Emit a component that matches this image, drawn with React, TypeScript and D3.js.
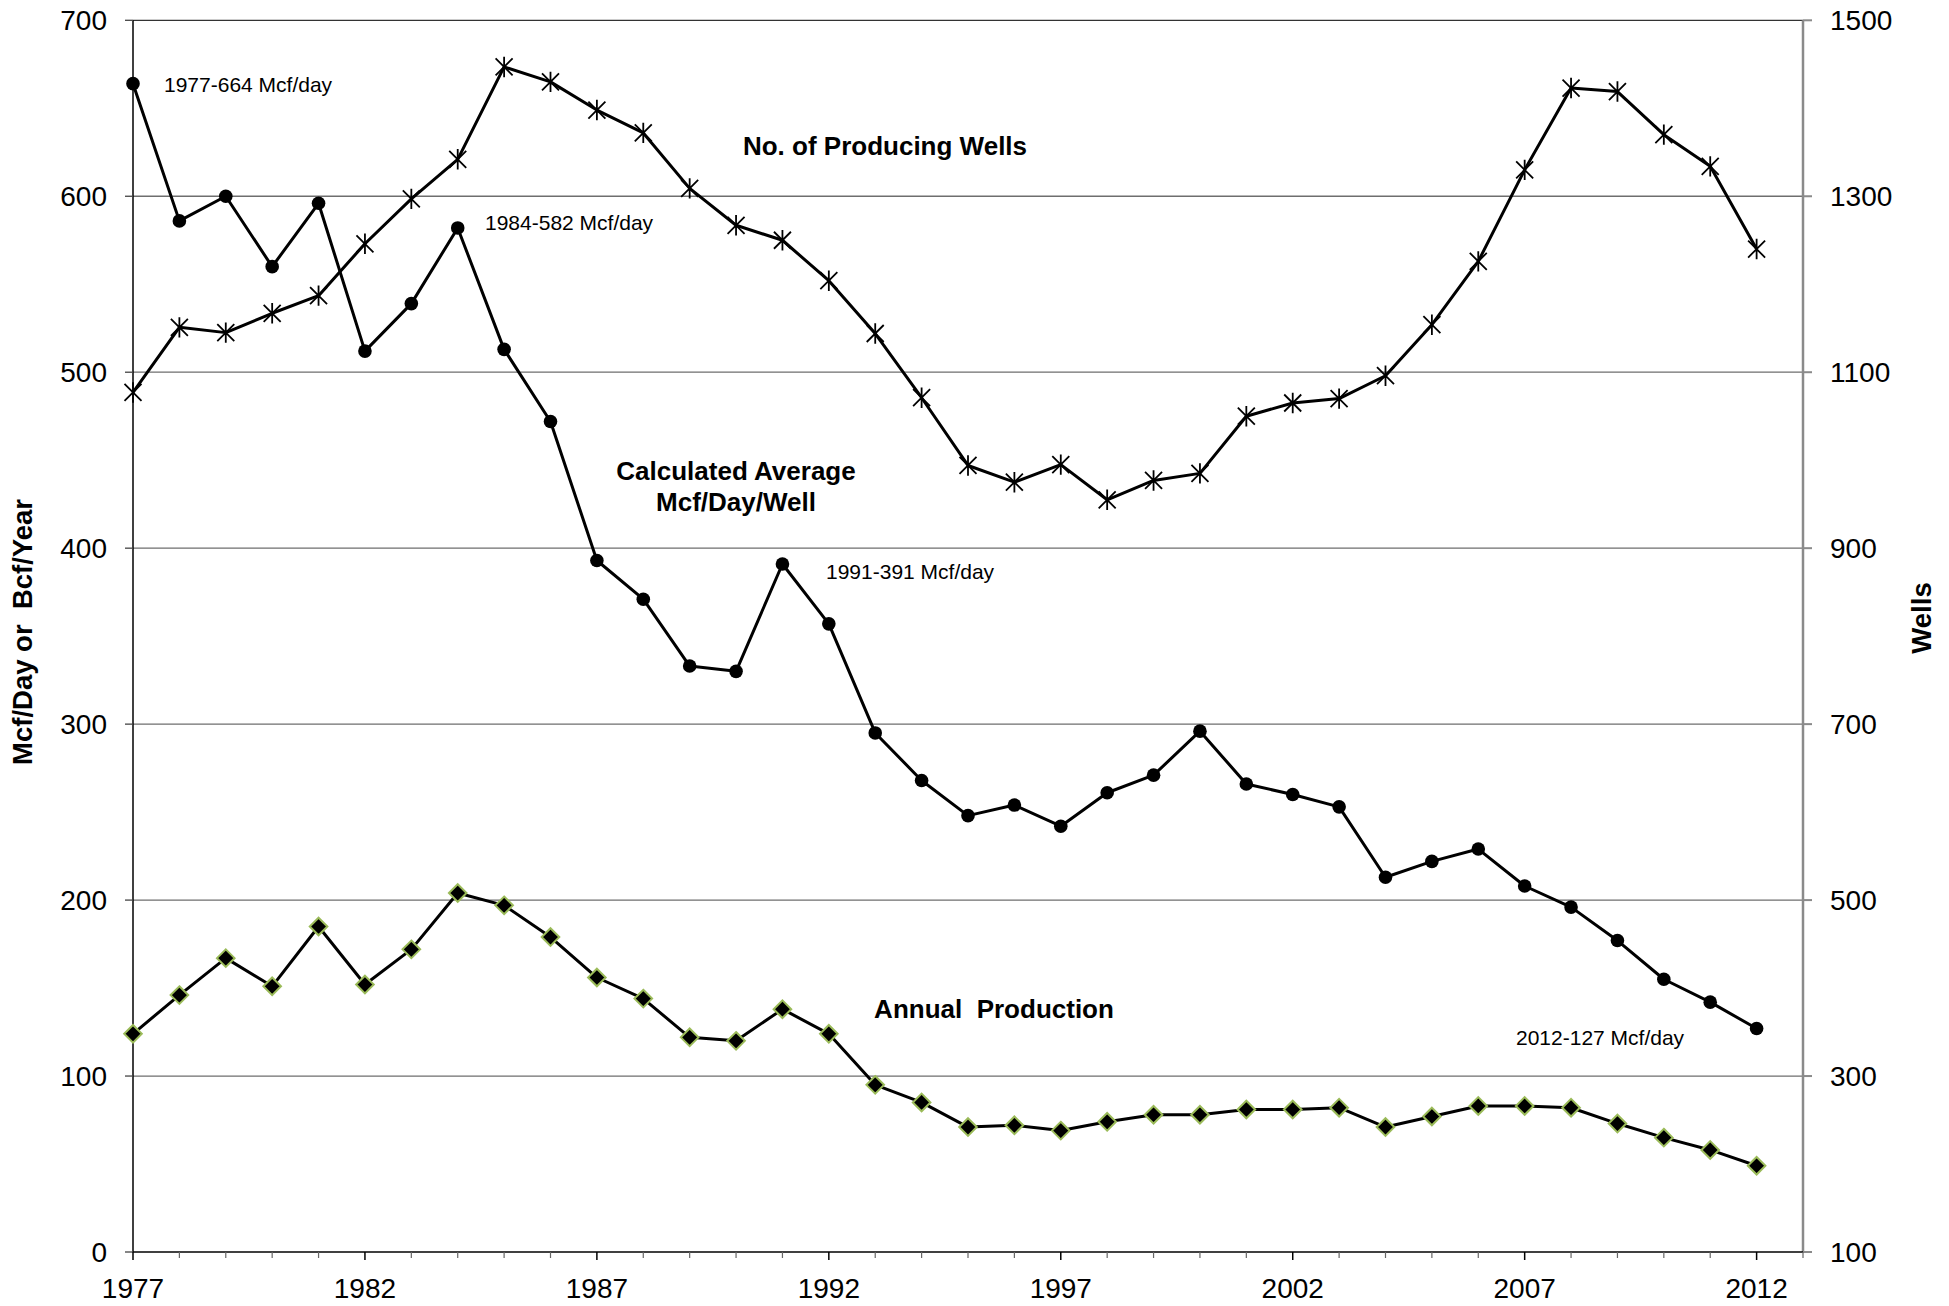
import React from "react";
import * as d3 from "d3";

const years = [1977, 1978, 1979, 1980, 1981, 1982, 1983, 1984, 1985, 1986, 1987, 1988, 1989, 1990, 1991, 1992, 1993, 1994, 1995, 1996, 1997, 1998, 1999, 2000, 2001, 2002, 2003, 2004, 2005, 2006, 2007, 2008, 2009, 2010, 2011, 2012];
const avgMcfPerWell = [664, 586, 600, 560, 596, 512, 539, 582, 513, 472, 393, 371, 333, 330, 391, 357, 295, 268, 248, 254, 242, 261, 271, 296, 266, 260, 253, 213, 222, 229, 208, 196, 177, 155, 142, 127];
const producingWells = [1077, 1151, 1145, 1167, 1187, 1246, 1297, 1342, 1447, 1430, 1398, 1372, 1309, 1267, 1250, 1204, 1144, 1071, 994, 975, 995, 955, 977, 985, 1050, 1065, 1070, 1096, 1154, 1226, 1330, 1423, 1419, 1370, 1334, 1240];
const annualProduction = [124, 146, 167, 151, 185, 152, 172, 204, 197, 179, 156, 144, 122, 120, 138, 124, 95, 85, 71, 72, 69, 74, 78, 78, 81, 81, 82, 71, 77, 83, 83, 82, 73, 65, 58, 49];
const leftTicks = [0, 100, 200, 300, 400, 500, 600, 700];
const rightTicks = [100, 300, 500, 700, 900, 1100, 1300, 1500];
const xMajorTicks = [1977, 1982, 1987, 1992, 1997, 2002, 2007, 2012];
const xMinorTicks = [1978, 1979, 1980, 1981, 1983, 1984, 1985, 1986, 1988, 1989, 1990, 1991, 1993, 1994, 1995, 1996, 1998, 1999, 2000, 2001, 2003, 2004, 2005, 2006, 2008, 2009, 2010, 2011, 2013];

const FONT = "'Liberation Sans', Arial, sans-serif";

export default function App() {
  const W = 1949, H = 1306;
  const left = 133, right = 1803, top = 20.3, bottom = 1252;
  const x = d3.scaleLinear().domain([1977, 2013]).range([left, right]);
  const yL = d3.scaleLinear().domain([0, 700]).range([bottom, top]);
  const yR = d3.scaleLinear().domain([100, 1500]).range([bottom, top]);

  const lineL = d3.line<number>().x((_, i) => x(years[i])).y((d) => yL(d));
  const lineR = d3.line<number>().x((_, i) => x(years[i])).y((d) => yR(d));

  const star = (cx: number, cy: number, s: number) =>
    `M${cx - s},${cy - s}L${cx + s},${cy + s}M${cx - s},${cy + s}L${cx + s},${cy - s}M${cx},${cy - s * 1.2}L${cx},${cy + s * 1.2}`;
  const diamond = (cx: number, cy: number, s: number) =>
    `M${cx},${cy - s}L${cx + s},${cy}L${cx},${cy + s}L${cx - s},${cy}Z`;

  return (
    <svg width={W} height={H} style={{ position: "absolute", left: 0, top: 0, background: "#fff" }} fontFamily={FONT}>
      {/* gridlines */}
      {leftTicks.filter((t) => t > 0).map((t) => (
        <line key={"g" + t} x1={left} x2={right} y1={yL(t)} y2={yL(t)} stroke={t === 700 ? "#333" : "#6e6e6e"} strokeWidth={1.3} />
      ))}
      {/* left axis */}
      <line x1={left} x2={left} y1={top} y2={bottom} stroke="#000" strokeWidth={1.5} />
      {leftTicks.map((t) => (
        <g key={"l" + t}>
          <line x1={left - 8} x2={left} y1={yL(t)} y2={yL(t)} stroke="#444" strokeWidth={1.3} />
          <text x={107} y={yL(t)} dy="0.36em" textAnchor="end" fontSize={28}>{t}</text>
        </g>
      ))}
      {/* right axis */}
      <line x1={right} x2={right} y1={top} y2={bottom} stroke="#8a8a8a" strokeWidth={2.5} />
      {rightTicks.map((t) => (
        <g key={"r" + t}>
          <line x1={right} x2={right + 9} y1={yR(t)} y2={yR(t)} stroke="#8a8a8a" strokeWidth={2} />
          <text x={1830} y={yR(t)} dy="0.36em" textAnchor="start" fontSize={28}>{t}</text>
        </g>
      ))}
      {/* x axis */}
      <line x1={left} x2={right} y1={bottom} y2={bottom} stroke="#000" strokeWidth={1.5} />
      {xMinorTicks.map((t) => (
        <line key={"m" + t} x1={x(t)} x2={x(t)} y1={bottom} y2={bottom + 6} stroke="#666" strokeWidth={1.2} />
      ))}
      {xMajorTicks.map((t) => (
        <g key={"M" + t}>
          <line x1={x(t)} x2={x(t)} y1={bottom} y2={bottom + 8} stroke="#000" strokeWidth={1.5} />
          <text x={x(t)} y={1298} textAnchor="middle" fontSize={28}>{t}</text>
        </g>
      ))}
      {/* axis titles */}
      <text transform={`translate(32,${632}) rotate(-90)`} textAnchor="middle" fontSize={27.5} fontWeight="bold" style={{ whiteSpace: "pre" }}>{"Mcf/Day or  Bcf/Year"}</text>
      <text transform={`translate(1931,${618}) rotate(-90)`} textAnchor="middle" fontSize={27.5} fontWeight="bold">Wells</text>

      {/* wells series */}
      <path d={lineR(producingWells) || ""} fill="none" stroke="#000" strokeWidth={3} strokeLinejoin="round" />
      {producingWells.map((v, i) => (
        <path key={"s" + i} d={star(x(years[i]), yR(v), 8.5)} stroke="#000" strokeWidth={1.8} fill="none" />
      ))}
      {/* average per well */}
      <path d={lineL(avgMcfPerWell) || ""} fill="none" stroke="#000" strokeWidth={3} strokeLinejoin="round" />
      {avgMcfPerWell.map((v, i) => (
        <circle key={"c" + i} cx={x(years[i])} cy={yL(v)} r={6.8} fill="#000" />
      ))}
      {/* annual production */}
      <path d={lineL(annualProduction) || ""} fill="none" stroke="#000" strokeWidth={3} strokeLinejoin="round" />
      {annualProduction.map((v, i) => (
        <path key={"d" + i} d={diamond(x(years[i]), yL(v), 8.8)} fill="#000" stroke="#9bbb59" strokeWidth={2} />
      ))}

      {/* labels */}
      <text x={885} y={155} textAnchor="middle" fontSize={26} fontWeight="bold">No. of Producing Wells</text>
      <text x={736} y={480} textAnchor="middle" fontSize={26} fontWeight="bold">Calculated Average</text>
      <text x={736} y={511} textAnchor="middle" fontSize={26} fontWeight="bold">Mcf/Day/Well</text>
      <text x={994} y={1018} textAnchor="middle" fontSize={26} fontWeight="bold" style={{ whiteSpace: "pre" }}>{"Annual  Production"}</text>

      <text x={164} y={92} fontSize={21}>1977-664 Mcf/day</text>
      <text x={485} y={230} fontSize={21}>1984-582 Mcf/day</text>
      <text x={826} y={579} fontSize={21}>1991-391 Mcf/day</text>
      <text x={1516} y={1045} fontSize={21}>2012-127 Mcf/day</text>
    </svg>
  );
}
